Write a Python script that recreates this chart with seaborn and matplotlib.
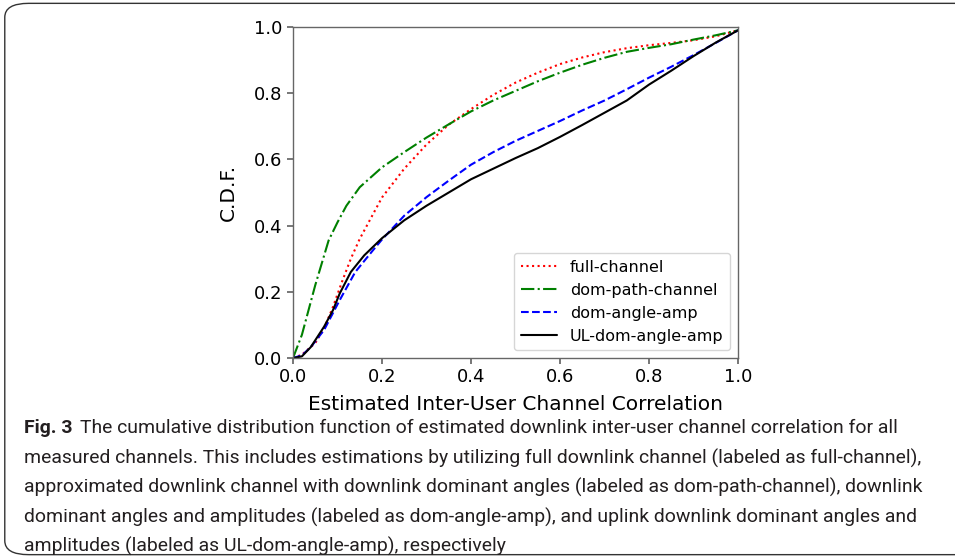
import numpy as np
import pandas as pd
import matplotlib
matplotlib.use("Agg")
import matplotlib.pyplot as plt
from matplotlib.patches import FancyBboxPatch
import seaborn as sns

# values
x_full = [0.0, 0.02, 0.05, 0.07, 0.09, 0.11, 0.13, 0.15, 0.18, 0.2, 0.25, 0.3, 0.35, 0.4, 0.45, 0.5,
          0.55, 0.6, 0.65, 0.7, 0.75, 0.8, 0.85, 0.9, 0.95, 1.0]
y_full = [0.0, 0.01, 0.045, 0.09, 0.155, 0.23, 0.30, 0.36, 0.435, 0.485, 0.572, 0.645, 0.705, 0.752,
          0.795, 0.832, 0.862, 0.888, 0.908, 0.924, 0.936, 0.945, 0.952, 0.96, 0.972, 0.99]

x_path = [0.0, 0.02, 0.05, 0.08, 0.1, 0.12, 0.15, 0.2, 0.25, 0.3, 0.35, 0.4, 0.45, 0.5,
          0.55, 0.6, 0.65, 0.7, 0.75, 0.8, 0.85, 0.9, 0.95, 1.0]
y_path = [0.0, 0.07, 0.22, 0.355, 0.41, 0.46, 0.516, 0.576, 0.622, 0.666, 0.706, 0.745, 0.778, 0.807,
          0.836, 0.862, 0.886, 0.907, 0.925, 0.937, 0.948, 0.962, 0.975, 0.99]

x_amp = [0.0, 0.02, 0.04, 0.07, 0.105, 0.14, 0.18, 0.2, 0.25, 0.3, 0.35, 0.4, 0.45, 0.5,
         0.55, 0.6, 0.65, 0.7, 0.75, 0.8, 0.85, 0.9, 0.95, 1.0]
y_amp = [0.0, 0.008, 0.033, 0.085, 0.175, 0.26, 0.326, 0.358, 0.43, 0.486, 0.536, 0.584,
         0.622, 0.656, 0.686, 0.716, 0.748, 0.778, 0.812, 0.847, 0.88, 0.915, 0.952, 0.99]

x_ul = [0.0, 0.02, 0.04, 0.07, 0.09, 0.105, 0.13, 0.16, 0.2, 0.25, 0.3, 0.35, 0.4, 0.45, 0.5,
        0.55, 0.6, 0.65, 0.7, 0.75, 0.8, 0.85, 0.9, 0.95, 1.0]
y_ul = [0.0, 0.005, 0.033, 0.095, 0.145, 0.195, 0.26, 0.31, 0.362, 0.416, 0.46, 0.50, 0.54,
        0.572, 0.604, 0.634, 0.668, 0.704, 0.741, 0.778, 0.826, 0.868, 0.912, 0.953, 0.99]

caption_label = "Fig. 3"
caption_lines = [
    "The cumulative distribution function of estimated downlink inter-user channel correlation for all",
    "measured channels. This includes estimations by utilizing full downlink channel (labeled as full-channel),",
    "approximated downlink channel with downlink dominant angles (labeled as dom-path-channel), downlink",
    "dominant angles and amplitudes (labeled as dom-angle-amp), and uplink downlink dominant angles and",
    "amplitudes (labeled as UL-dom-angle-amp), respectively",
]

sns.set_theme(style="ticks")
plt.rcParams["font.family"] = ["DejaVu Sans"]
plt.rcParams["text.color"] = "black"
plt.rcParams["axes.labelcolor"] = "black"
plt.rcParams["xtick.color"] = "#666666"
plt.rcParams["ytick.color"] = "#666666"
plt.rcParams["xtick.labelcolor"] = "black"
plt.rcParams["ytick.labelcolor"] = "black"

fig = plt.figure(figsize=(9.55, 5.58), dpi=100)
ax = fig.add_axes([0.3068, 0.3584, 0.4660, 0.5932])

series = [
    (x_full, y_full, "full-channel", "red", ":"),
    (x_path, y_path, "dom-path-channel", "green", "-."),
    (x_amp, y_amp, "dom-angle-amp", "blue", "--"),
    (x_ul, y_ul, "UL-dom-angle-amp", "black", "-"),
]
for xs, ys, name, col, ls in series:
    df = pd.DataFrame({"x": xs, "y": ys})
    sns.lineplot(data=df, x="x", y="y", ax=ax, color=col, linestyle=ls,
                 linewidth=1.5, label=name)

ax.set_xlim(0, 1)
ax.set_ylim(0, 1)
ax.set_xticks(np.arange(0, 1.01, 0.2))
ax.set_yticks(np.arange(0, 1.01, 0.2))
ax.tick_params(labelsize=13, length=4)
for s in ax.spines.values():
    s.set_visible(True)
    s.set_color("#666666")
    s.set_linewidth(1.0)
ax.set_xlabel("Estimated Inter-User Channel Correlation", fontsize=14.5, labelpad=6)
ax.set_ylabel("C.D.F.", fontsize=14.5, labelpad=12)
ax.legend(loc="lower right", fontsize=11.5, handlelength=2.3, frameon=True, framealpha=0.8,
          edgecolor="#cccccc", fancybox=True)

# border box around the figure panel
box = FancyBboxPatch((0.005, 0.006), 1.05, 0.988, transform=fig.transFigure,
                     boxstyle="round,pad=0,rounding_size=0.025", facecolor="none",
                     edgecolor="#333333", linewidth=1.0, clip_on=False)
fig.patches.append(box)

# caption: fit font size so the third line spans the same width as in the reference
cap_font = ["Roboto", "DejaVu Sans"]
cap_color = "#231f20"
x0_px = 24
fig.canvas.draw()
probe = fig.text(0, 0, caption_lines[2], fontsize=14, family=cap_font)
w = probe.get_window_extent(fig.canvas.get_renderer()).width
probe.remove()
cap_size = 14 * (929 - x0_px) / w

W, H = fig.bbox.width, fig.bbox.height
t = fig.text(x0_px / W, 1 - 428 / 558, caption_label, fontsize=cap_size, fontweight="bold",
             va="center", family=cap_font, color=cap_color)
bb = t.get_window_extent(fig.canvas.get_renderer())
fig.text((bb.x1 + 8) / W, 1 - 428 / 558, caption_lines[0], fontsize=cap_size,
         va="center", family=cap_font, color=cap_color)
for i, line in enumerate(caption_lines[1:]):
    fig.text(x0_px / W, 1 - (458 + 29.5 * i) / 558, line, fontsize=cap_size, va="center",
             family=cap_font, color=cap_color)

fig.savefig("out.png", dpi=100)
